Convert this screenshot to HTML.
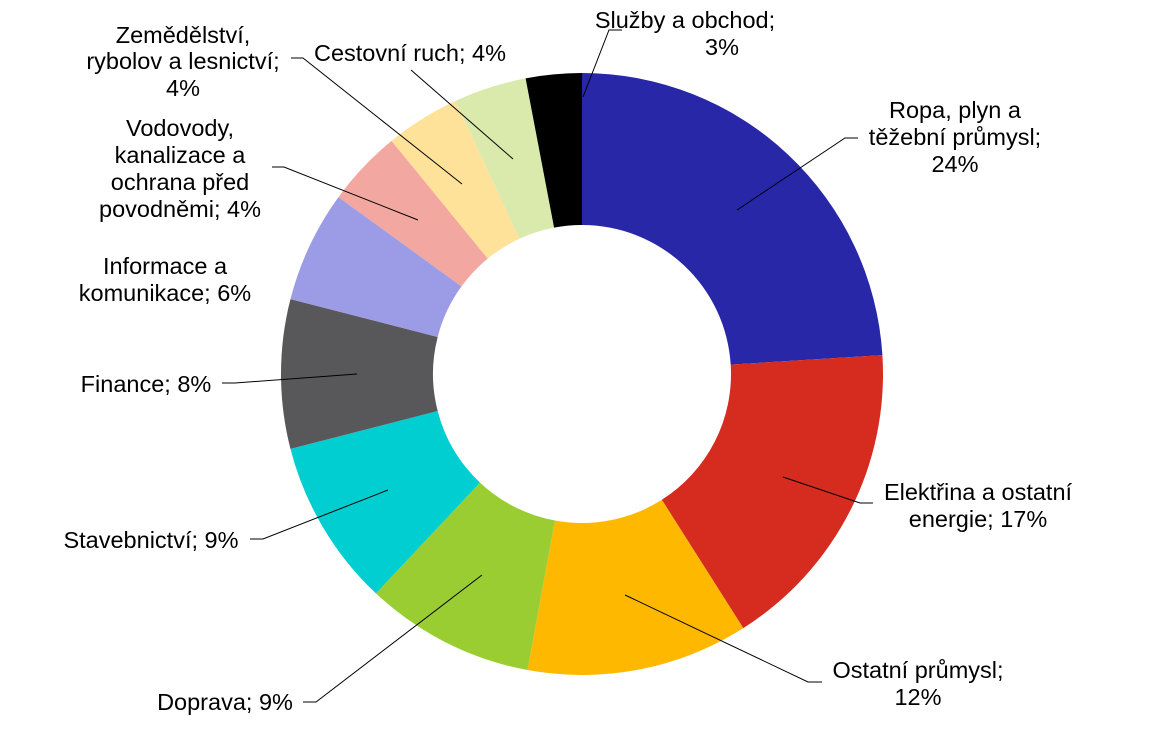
<!DOCTYPE html>
<html><head><meta charset="utf-8"><style>
html,body{margin:0;padding:0;background:#fff}
svg text{font-family:"Liberation Sans",Arial,sans-serif;font-size:23.5px;fill:#000}
</style></head><body>
<svg id="s" width="1165" height="731" xmlns="http://www.w3.org/2000/svg">
<g id="slices"></g>
<g stroke="#000" stroke-width="1" fill="none">
<polyline points="622,30 609,30 583,97"/>
<polyline points="858,138 845,138 737,210"/>
<polyline points="873,503 860,503 783,477"/>
<polyline points="822,682 808,682 625,595"/>
<polyline points="303,702 316,702 482,575"/>
<polyline points="250,539 263,539 388,490"/>
<polyline points="222,383 235,383 357,374"/>
<polyline points="272,167 284,167 418,220"/>
<polyline points="291,58 303,58 462,184"/>
<polyline points="411,70 513,159"/>
</g>
<g text-anchor="middle">
<text x="685" y="28">Služby a obchod;</text><text x="722" y="55">3%</text>
<text x="955" y="118">Ropa, plyn a</text><text x="955" y="145">těžební průmysl;</text><text x="955" y="172">24%</text>
<text x="978" y="500">Elektřina a ostatní</text><text x="978" y="527">energie; 17%</text>
<text x="918" y="678">Ostatní průmysl;</text><text x="918" y="705">12%</text>
<text x="225" y="710">Doprava; 9%</text>
<text x="151" y="548">Stavebnictví; 9%</text>
<text x="146" y="392">Finance; 8%</text>
<text x="165" y="274">Informace a</text><text x="165" y="301">komunikace; 6%</text>
<text x="180" y="136">Vodovody,</text><text x="180" y="163">kanalizace a</text><text x="180" y="190">ochrana před</text><text x="180" y="217">povodněmi; 4%</text>
<text x="183" y="43">Zemědělství,</text><text x="183" y="69">rybolov a lesnictví;</text><text x="183" y="96">4%</text>
<text x="410" y="61">Cestovní ruch; 4%</text>
</g>
</svg>
<script>
var cx=582,cy=374,R=301,r=149;
var cum=[0,.24,.41,.529,.62,.71,.79,.85,.891,.931,.97,1];
var col=["#2727A8","#D62B1F","#FFB800","#9ACD32","#00CED1","#58585A","#9B9BE6","#F2A7A0","#FFE29A","#D9EAAC","#000000"];
var g=document.getElementById("slices"),h="";
function p(f,rad){var a=f*2*Math.PI;return [cx+rad*Math.sin(a),cy-rad*Math.cos(a)];}
for(var i=0;i<11;i++){var a=cum[i],b=cum[i+1],l=(b-a)>.5?1:0;
var o1=p(a,R),o2=p(b,R),i1=p(b,r),i2=p(a,r);
h+='<path fill="'+col[i]+'" d="M'+o1+' A'+R+','+R+' 0 '+l+' 1 '+o2+' L'+i1+' A'+r+','+r+' 0 '+l+' 0 '+i2+' Z"/>';}
g.innerHTML=h;
</script>
</body></html>
